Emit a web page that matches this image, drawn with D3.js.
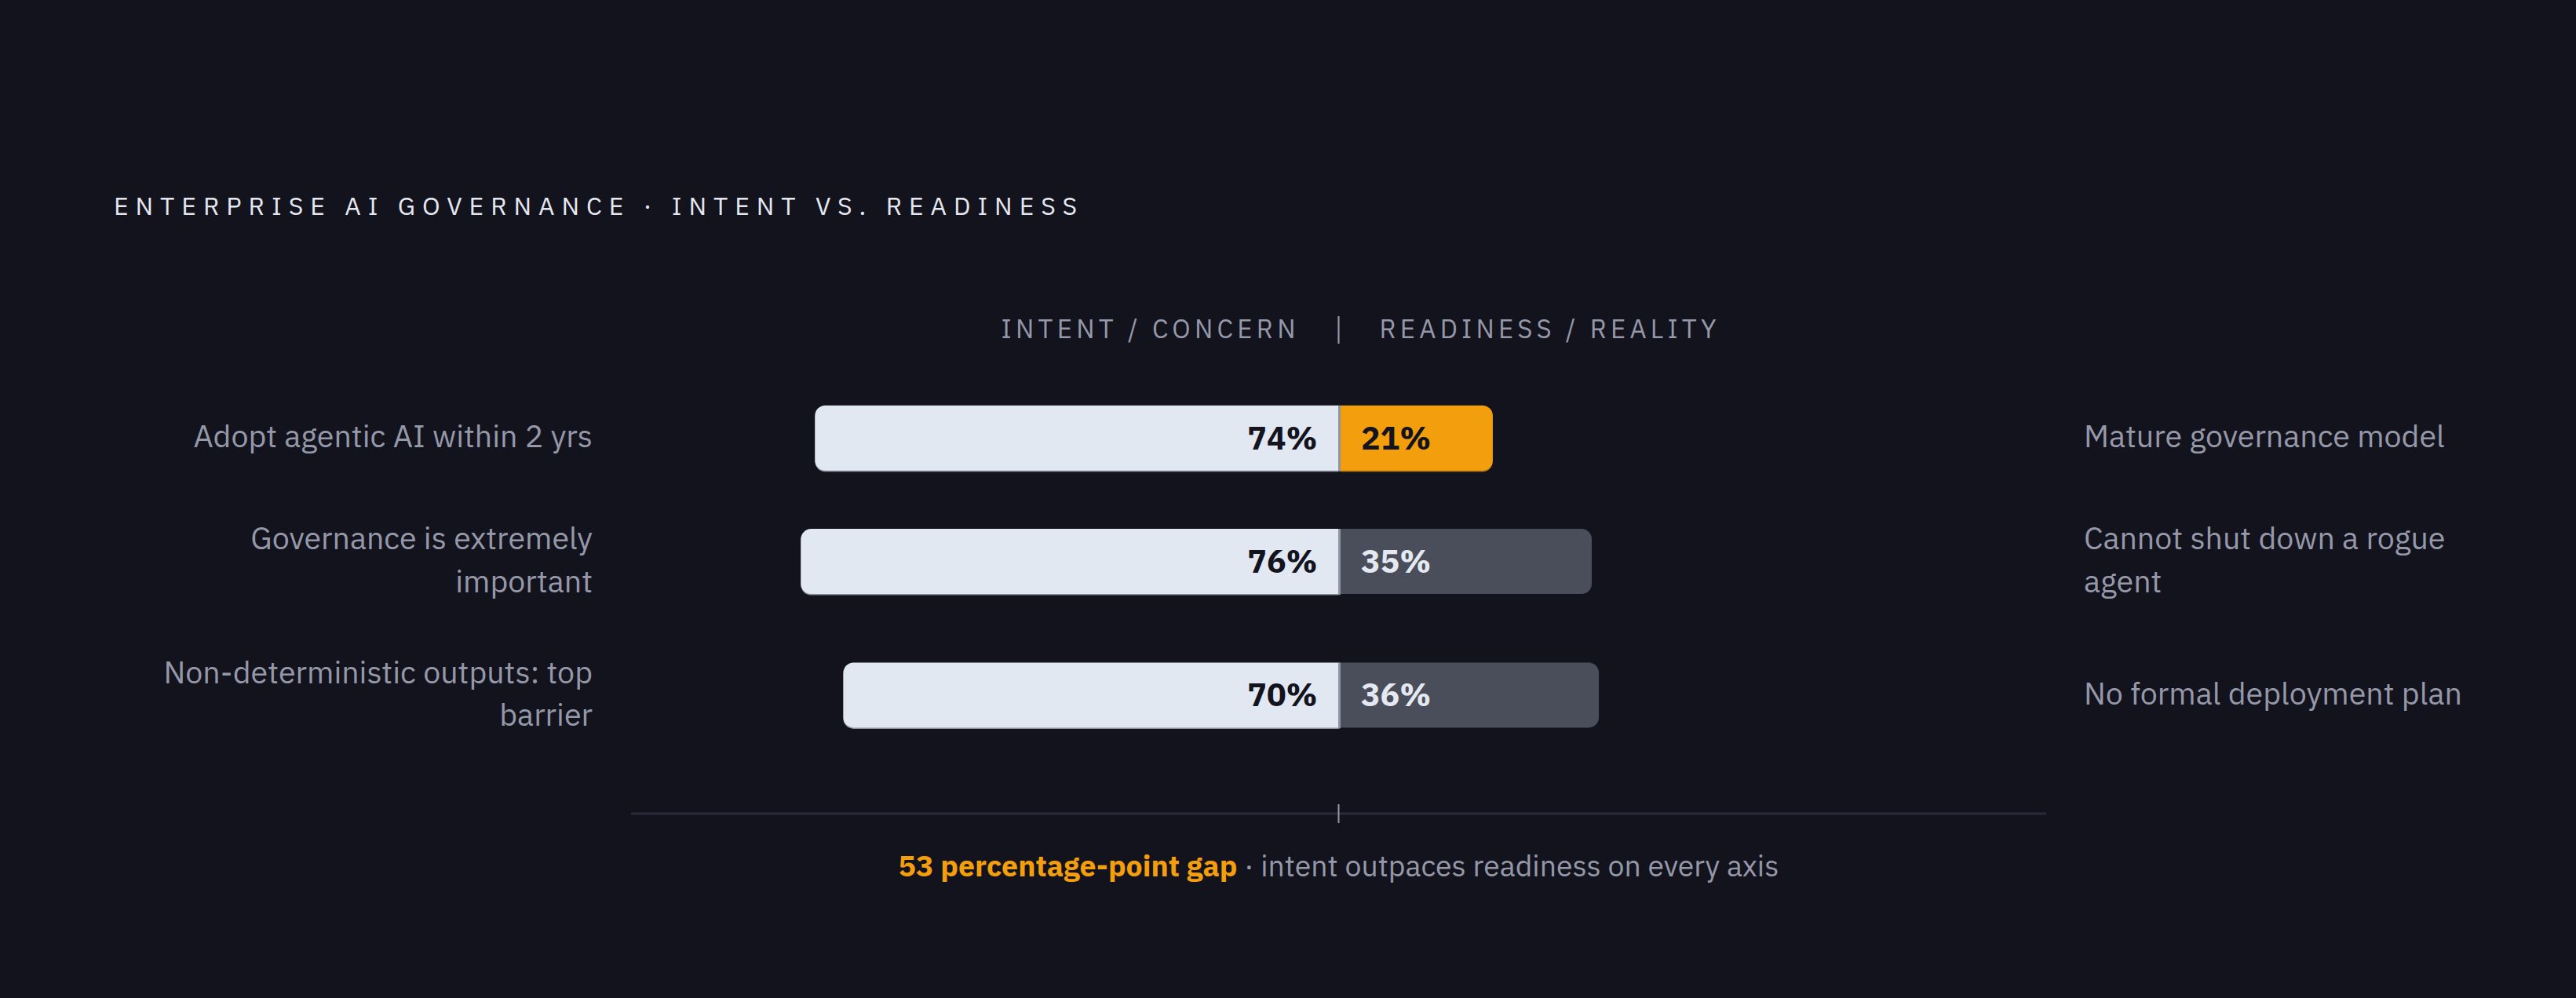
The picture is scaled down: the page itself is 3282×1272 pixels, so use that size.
<!DOCTYPE html>
<html>
<head>
<meta charset="utf-8">
<script src="https://cdn.jsdelivr.net/npm/d3@7"></script>
<style>
  html, body { margin: 0; padding: 0; background: #13131e; }
  svg { display: block; }
  text { font-family: "IBM Plex Sans", "Noto Sans", "Open Sans", sans-serif; }
</style>
</head>
<body>
<svg id="chart" width="3282" height="1272"></svg>
<script>
// ---- data ----
const title = "ENTERPRISE AI GOVERNANCE · INTENT VS. READINESS";
const headerLeft = "INTENT / CONCERN";
const headerRight = "READINESS / REALITY";
const intentLabels = ["Adopt agentic AI within 2 yrs", "Governance is extremely\nimportant", "Non-deterministic outputs: top\nbarrier"];
const intentValues = [74, 76, 70];
const readinessLabels = ["Mature governance model", "Cannot shut down a rogue\nagent", "No formal deployment plan"];
const readinessValues = [21, 35, 36];
const highlight = [true, false, false];
const gapValue = 53;
const footnoteStrong = gapValue + " percentage-point gap";
const footnoteRest = "intent outpaces readiness on every axis";

// ---- layout ----
const W = 3282, H = 1272;
const svg = d3.select("#chart");
svg.append("rect").attr("width", W).attr("height", H).attr("fill", "#13131e");

const x = d3.scaleLinear().domain([-100, 100]).range([804, 2607]);
const cx = x(0);
const barH = 83, lineH = 54.4, rowGap = 61.5, radius = 13, rightPad = 7, divW = 2.5;
const firstTop = 516.7;

const rows = intentLabels.map((l, i) => {
  const nl = Math.max(l.split("\n").length, readinessLabels[i].split("\n").length);
  return { i, h: Math.max(barH, nl * lineH) };
});
let yCursor = firstTop - (rows[0].h - barH) / 2;
rows.forEach(r => { r.cy = yCursor + r.h / 2; yCursor += r.h + rowGap; });

// title
svg.append("text").attr("x", 145).attr("y", 274)
  .attr("fill", "#e4e7f0").attr("font-size", 32)
  .attr("textLength", 1227).attr("lengthAdjust", "spacing")
  .text(title);

// headers
svg.append("text").attr("x", cx - 55).attr("y", 431).attr("text-anchor", "end")
  .attr("fill", "#9598a8").attr("font-size", 33)
  .attr("textLength", 375).attr("lengthAdjust", "spacing").text(headerLeft);
svg.append("text").attr("x", cx + 52).attr("y", 431)
  .attr("fill", "#9598a8").attr("font-size", 33)
  .attr("textLength", 429).attr("lengthAdjust", "spacing").text(headerRight);
svg.append("line").attr("x1", cx).attr("x2", cx).attr("y1", 403).attr("y2", 438)
  .attr("stroke", "#9598a8").attr("stroke-width", 2.2);

function leftRounded(x0, y0, w, h, r) {
  const p = d3.path();
  p.moveTo(x0 + w, y0);
  p.lineTo(x0 + r, y0);
  p.arcTo(x0, y0, x0, y0 + r, r);
  p.lineTo(x0, y0 + h - r);
  p.arcTo(x0, y0 + h, x0 + r, y0 + h, r);
  p.lineTo(x0 + w, y0 + h);
  p.closePath();
  return p.toString();
}
function rightRounded(x0, y0, w, h, r) {
  const p = d3.path();
  p.moveTo(x0, y0);
  p.lineTo(x0 + w - r, y0);
  p.arcTo(x0 + w, y0, x0 + w, y0 + r, r);
  p.lineTo(x0 + w, y0 + h - r);
  p.arcTo(x0 + w, y0 + h, x0 + w - r, y0 + h, r);
  p.lineTo(x0, y0 + h);
  p.closePath();
  return p.toString();
}

const g = svg.append("g");
rows.forEach(r => {
  const i = r.i;
  const top = r.cy - barH / 2;
  // left bar (intent)
  const lx = x(-intentValues[i]);
  g.append("path").attr("d", leftRounded(lx, top + 1.5, cx - lx, barH, radius)).attr("fill", "#8f94a0");
  g.append("path").attr("d", leftRounded(lx, top, cx - lx, barH, radius)).attr("fill", "#e1e8f1");
  // right bar (readiness)
  const rx0 = cx + divW;
  const rx1 = x(readinessValues[i]) + rightPad;
  const rFill = highlight[i] ? "#f39e0d" : "#4a4e5a";
  if (highlight[i]) {
    g.append("path").attr("d", rightRounded(rx0, top + 1.5, rx1 - rx0, barH, radius)).attr("fill", "#b8770c");
  }
  g.append("path").attr("d", rightRounded(rx0, top, rx1 - rx0, barH, radius)).attr("fill", rFill);
  // divider
  g.append("rect").attr("x", cx - 0.5).attr("y", top).attr("width", divW + 0.5).attr("height", barH + 1)
    .attr("fill", "#8e94a0");
  // values
  g.append("text").attr("x", cx - 27).attr("y", r.cy + 14.5).attr("text-anchor", "end")
    .attr("font-size", 41).attr("font-weight", 700).attr("fill", "#14141f")
    .text(intentValues[i] + "%");
  g.append("text").attr("x", rx0 + 26).attr("y", r.cy + 14.5)
    .attr("font-size", 41).attr("font-weight", 700)
    .attr("fill", highlight[i] ? "#14141f" : "#e4e8f0")
    .text(readinessValues[i] + "%");

  // side labels
  const ll = intentLabels[i].split("\n");
  const lt = g.append("text").attr("text-anchor", "end").attr("font-size", 39.4).attr("fill", "#9598a8");
  ll.forEach((s, k) => {
    lt.append("tspan").attr("x", 755).attr("y", r.cy + (k - (ll.length - 1) / 2) * lineH + 12).text(s);
  });
  const rl = readinessLabels[i].split("\n");
  const rt = g.append("text").attr("font-size", 39.4).attr("fill", "#9598a8");
  rl.forEach((s, k) => {
    rt.append("tspan").attr("x", 2655).attr("y", r.cy + (k - (rl.length - 1) / 2) * lineH + 12).text(s);
  });
});

// baseline axis
svg.append("line").attr("x1", x(-100)).attr("x2", x(100)).attr("y1", 1037).attr("y2", 1037)
  .attr("stroke", "#2a2a3a").attr("stroke-width", 3);
svg.append("line").attr("x1", cx).attr("x2", cx).attr("y1", 1025).attr("y2", 1049)
  .attr("stroke", "#9598a8").attr("stroke-width", 2);

// footnote
const ft = svg.append("text").attr("x", cx).attr("y", 1117).attr("text-anchor", "middle")
  .attr("font-size", 37.4);
ft.append("tspan").attr("fill", "#f39e0d").attr("font-weight", 700).text(footnoteStrong);
ft.append("tspan").attr("fill", "#9598a8").text(" · " + footnoteRest);
</script>
</body>
</html>
